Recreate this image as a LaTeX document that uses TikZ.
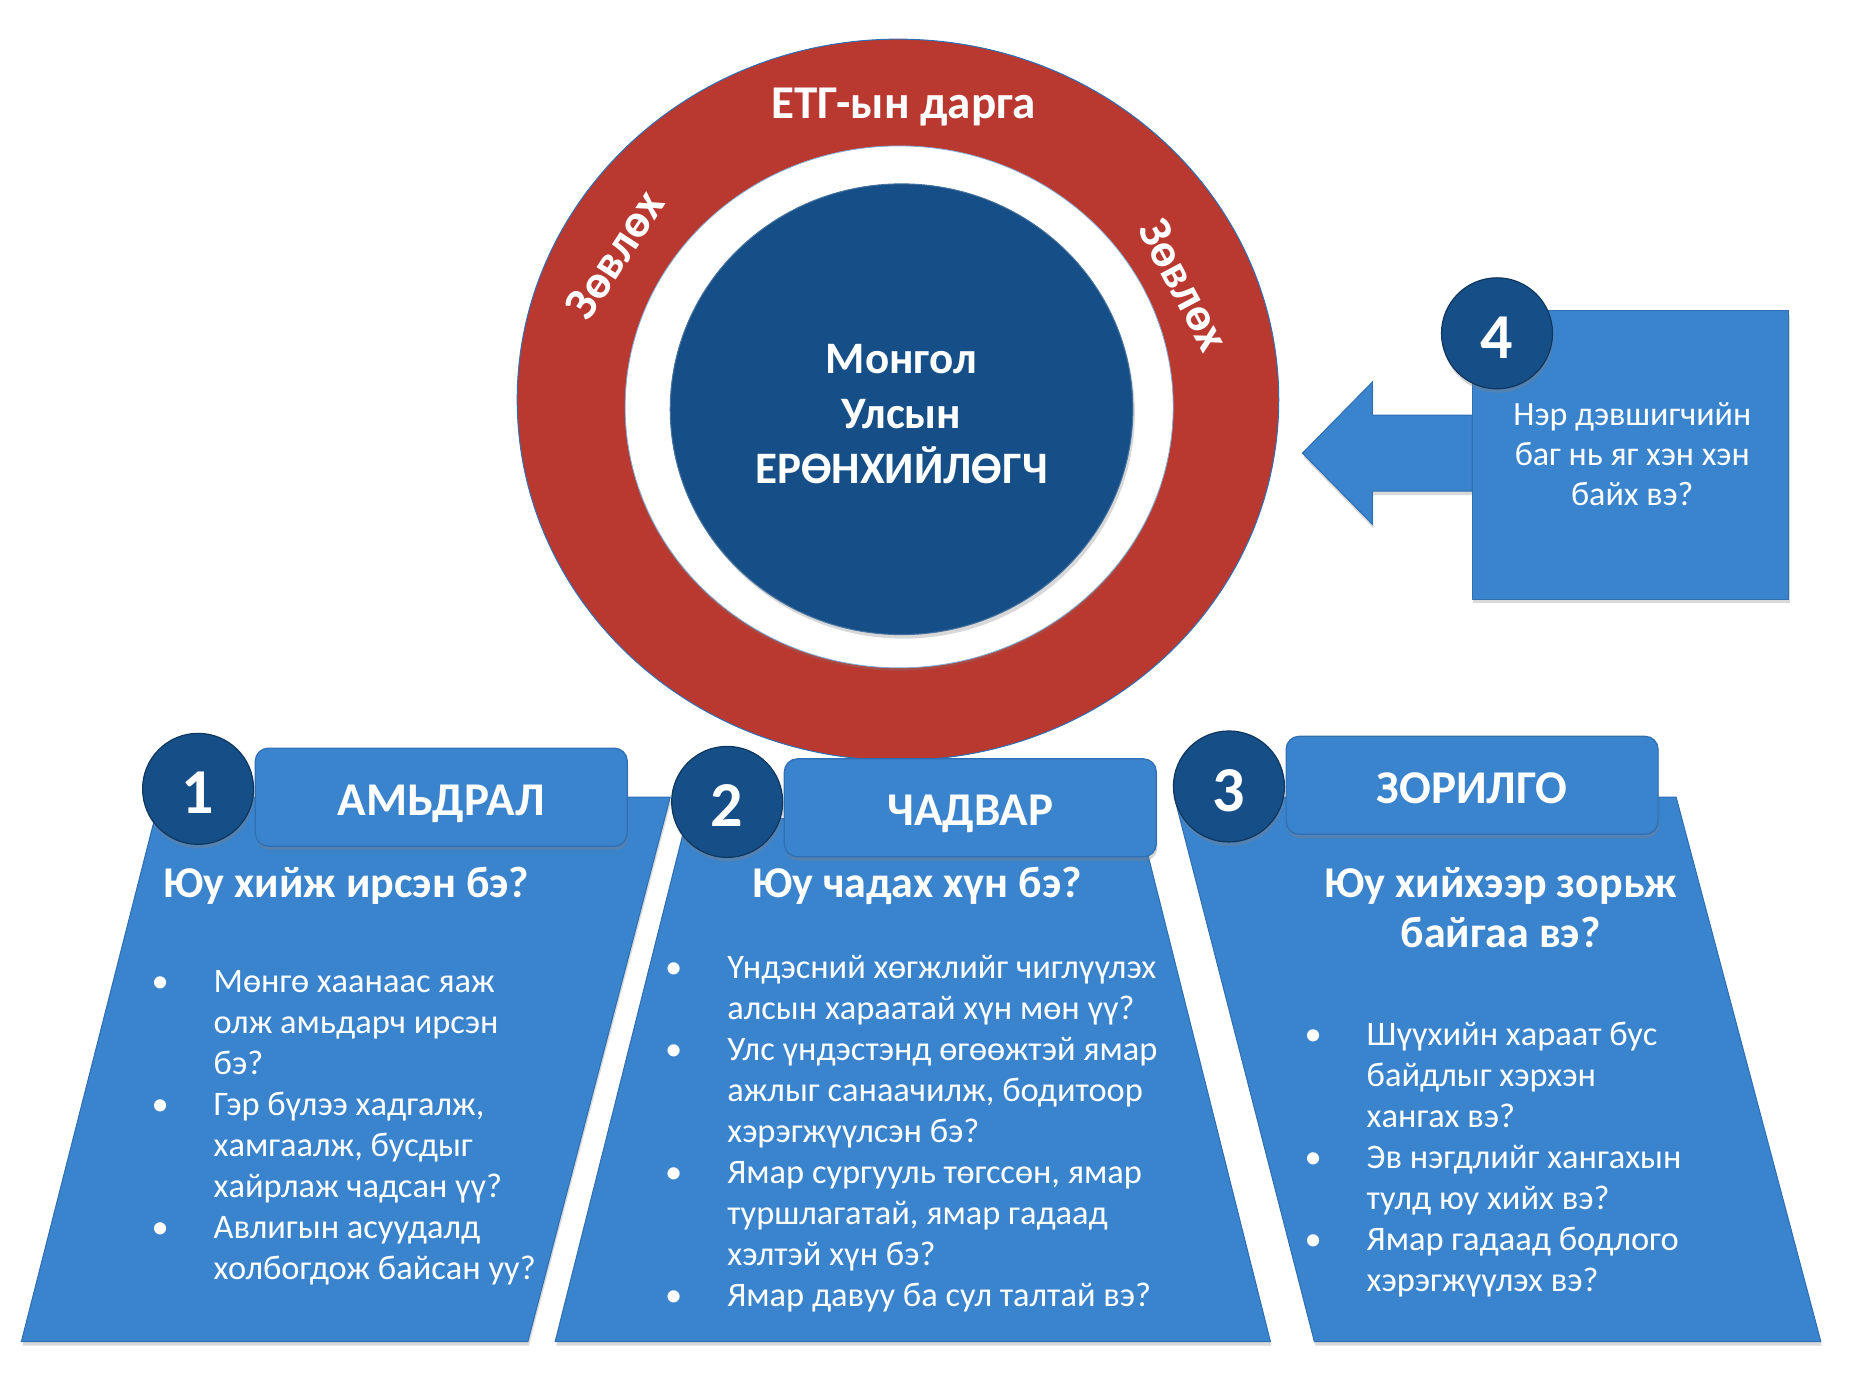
\documentclass[tikz,border=0pt]{standalone}
\usepackage{fontspec}
\setmainfont{Carlito}
\usetikzlibrary{shadows}

\definecolor{panelblue}{HTML}{3A83CD}
\definecolor{edgeblue}{HTML}{2F6FB3}
\definecolor{darkblue}{HTML}{164F87}
\definecolor{ringred}{HTML}{B93830}

\newcommand\bul{\llap{\textbullet\hspace{45pt}}}

\begin{document}
\begin{tikzpicture}[x=1.1862pt, y=-1.1862pt,
	panel/.style = {fill=panelblue, draw=edgeblue, line width=1pt,
		drop shadow={opacity=0.3, shadow xshift=1pt, shadow yshift=-4pt}},
	headbox/.style = {rounded corners=13pt, fill=panelblue, draw=edgeblue, line width=1.2pt,
		minimum width=372pt, minimum height=98pt, text=white,
		font=\fontsize{47}{56}\selectfont\bfseries, text height=36pt, text depth=0pt,
		drop shadow={opacity=0.35, shadow xshift=1pt, shadow yshift=-4pt}},
	numdisc/.style = {circle, fill=darkblue, draw=darkblue!70!black, line width=1.2pt,
		minimum size=111pt, inner sep=0pt, text=white,
		font=\fontsize{64}{70}\selectfont\bfseries, text height=50pt, text depth=0pt,
		drop shadow={opacity=0.35, shadow xshift=1pt, shadow yshift=-4pt}},
	title/.style = {text=white, inner sep=0pt, align=center,
		font=\fontsize{44}{50}\selectfont\bfseries},
	body/.style = {text=white, inner sep=0pt, align=left,
		font=\fontsize{34.4}{41}\selectfont},
	ringtext/.style = {text=white, inner sep=0pt,
		font=\fontsize{47}{54}\selectfont\bfseries}
	]
	\useasboundingbox (0,0) rectangle (1568,1166.8);
	
	% ring
	\draw[fill=ringred, draw=edgeblue, line width=1pt] (757,337) ellipse [x radius=321, y radius=304];
	\draw[fill=white, draw=edgeblue!60!white, line width=0.8pt,
		drop shadow={opacity=0.25, shadow xshift=0pt, shadow yshift=-3pt}] (758,343) ellipse [x radius=231, y radius=220];
	\draw[fill=darkblue, draw=darkblue!80!white, line width=1pt,
		drop shadow={opacity=0.3, shadow xshift=2pt, shadow yshift=-4pt}] (760,345) ellipse [x radius=195, y radius=190];
	
	\node[ringtext] (chair) at (762,90) {ЕТГ-ын дарга};
	\node[ringtext, rotate=57] (advl) at (518,215) {Зөвлөх};
	\node[ringtext, rotate=-62] (advr) at (998,240) {Зөвлөх};
	\node[text=white, align=center, font=\fontsize{45}{55}\selectfont\bfseries] (pres) at (760,349) {Монгол\\Улсын\\ЕРӨНХИЙЛӨГЧ};
	
	% panels
	\draw[panel] (135,672) -- (565,672) -- (445,1131) -- (18,1131) -- cycle;
	\draw[panel] (579,690) -- (960,690) -- (1071,1131) -- (468,1131) -- cycle;
	\draw[panel] (990,672) -- (1413,672) -- (1535,1131) -- (1108,1131) -- cycle;
	
	\node[headbox] (h1) at (372,672) {АМЬДРАЛ};
	\node[headbox] (h2) at (818,681) {ЧАДВАР};
	\node[headbox] (h3) at (1241,662) {ЗОРИЛГО};
	
	\node[numdisc] (n1) at (167,665) {1};
	\node[numdisc] (n2) at (613,676) {2};
	\node[numdisc] (n3) at (1036,663) {3};
	
	\node[title, anchor=base] (q1) at (292,757) {Юу хийж ирсэн бэ?};
	\node[title, anchor=base] (q2) at (773,757) {Юу чадах хүн бэ?};
	\node[title, anchor=base] (q3) at (1265,799) {Юу хийхээр зорьж\\байгаа вэ?};
	
	\node[body, anchor=base west] (b1) at (180,1079) {\bul Мөнгө хаанаас яаж\\олж амьдарч ирсэн\\бэ?\\\bul Гэр бүлээ хадгалж,\\хамгаалж, бусдыг\\хайрлаж чадсан үү?\\\bul Авлигын асуудалд\\холбогдож байсан уу?};
	\node[body, anchor=base west] (b2) at (613,1101) {\bul Үндэсний хөгжлийг чиглүүлэх\\алсын хараатай хүн мөн үү?\\\bul Улс үндэстэнд өгөөжтэй ямар\\ажлыг санаачилж, бодитоор\\хэрэгжүүлсэн бэ?\\\bul Ямар сургууль төгссөн, ямар\\туршлагатай, ямар гадаад\\хэлтэй хүн бэ?\\\bul Ямар давуу ба сул талтай вэ?};
	\node[body, anchor=base west] (b3) at (1152,1089) {\bul Шүүхийн хараат бус\\байдлыг хэрхэн\\хангах вэ?\\\bul Эв нэгдлийг хангахын\\тулд юу хийх вэ?\\\bul Ямар гадаад бодлого\\хэрэгжүүлэх вэ?};
	
	% box 4 with arrow
	\draw[panel] (1241,350) -- (1157,350) -- (1157,322) -- (1098,382) -- (1157,442) -- (1157,414) -- (1241,414) -- cycle;
	\draw[panel] (1241,262) rectangle (1508,505);
	\node[numdisc] (n4) at (1262,281) {4};
	\node[body, align=center, font=\fontsize{34}{40}\selectfont] (q4) at (1376,383) {Нэр дэвшигчийн\\баг нь яг хэн хэн\\байх вэ?};
\end{tikzpicture}
\end{document}
